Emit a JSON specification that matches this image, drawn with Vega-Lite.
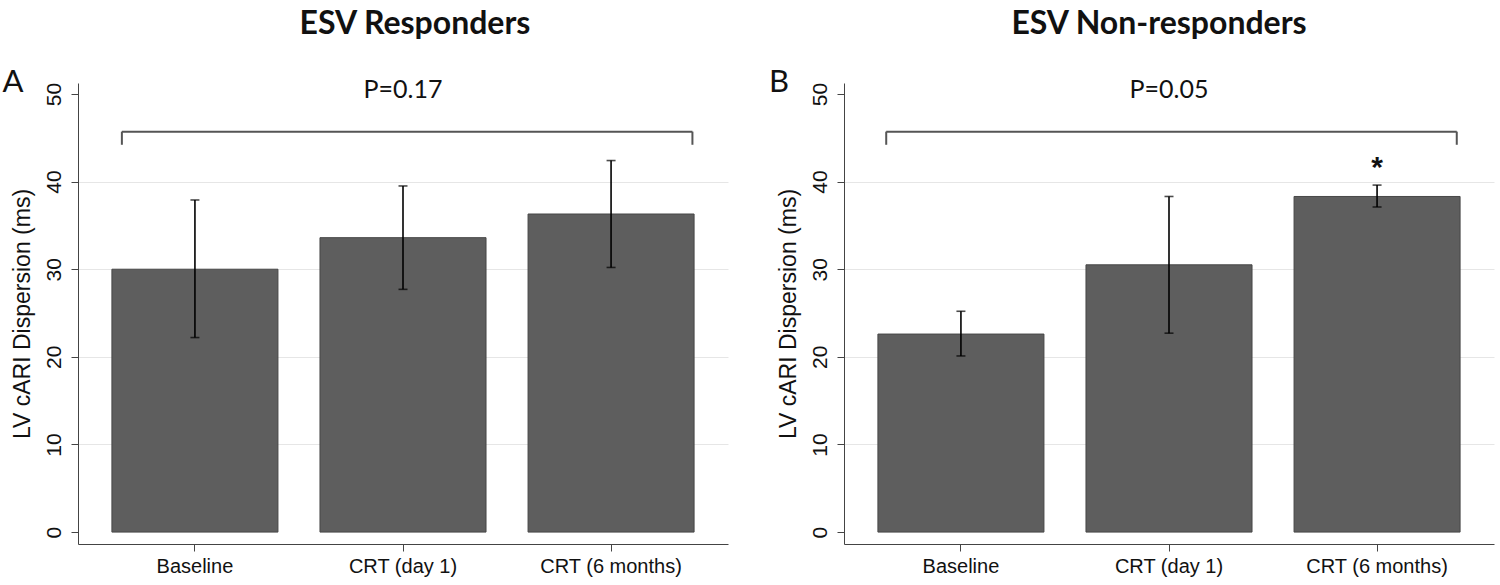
{
  "$schema": "https://vega.github.io/schema/vega-lite/v6.json",
  "background": "white",
  "padding": {"left": 2, "top": 8, "right": 5, "bottom": 2},
  "spacing": 40,
  "datasets": {
    "bars": [
      {"panel": "A", "cond": "Baseline", "mean": 30.0, "lo": 22.2, "hi": 37.9},
      {"panel": "A", "cond": "CRT (day 1)", "mean": 33.6, "lo": 27.7, "hi": 39.5},
      {"panel": "A", "cond": "CRT (6 months)", "mean": 36.3, "lo": 30.2, "hi": 42.4},
      {"panel": "B", "cond": "Baseline", "mean": 22.6, "lo": 20.1, "hi": 25.2},
      {"panel": "B", "cond": "CRT (day 1)", "mean": 30.5, "lo": 22.7, "hi": 38.3},
      {"panel": "B", "cond": "CRT (6 months)", "mean": 38.3, "lo": 37.1, "hi": 39.6}
    ],
    "notes": [
      {"panel": "A", "letter": "A", "pval": "P=0.17", "left": "Baseline", "right": "CRT (6 months)", "mid": "CRT (day 1)", "top": 45.7, "foot": 44.2, "ptext": 50.4, "letterY": 51.2},
      {"panel": "B", "letter": "B", "pval": "P=0.05", "left": "Baseline", "right": "CRT (6 months)", "mid": "CRT (day 1)", "top": 45.7, "foot": 44.2, "ptext": 50.4, "letterY": 51.2}
    ],
    "stars": [
      {"panel": "B", "cond": "CRT (6 months)", "y": 41.6, "mark": "*"}
    ]
  },
  "config": {
    "view": {"stroke": null},
    "axis": {
      "domainColor": "#444",
      "tickColor": "#444",
      "labelColor": "#111",
      "titleColor": "#111",
      "labelFont": "Liberation Sans",
      "titleFont": "Liberation Sans",
      "titleFontWeight": "normal"
    }
  },
  "hconcat": [
    {
      "width": 650,
      "height": 461,
      "title": {"text": "ESV Responders", "font": "Lato", "fontSize": 32, "fontWeight": "bold", "color": "#111", "offset": 26, "anchor": "middle", "dx": 12},
      "layer": [
        {
          "data": {"name": "bars"},
          "transform": [{"filter": "datum.panel == 'A'"}],
          "mark": {"type": "bar", "color": "#5e5e5e", "stroke": "#474747", "strokeWidth": 1},
          "encoding": {
            "x": {"field": "cond", "type": "nominal",
              "scale": {"domain": ["Baseline", "CRT (day 1)", "CRT (6 months)"], "paddingInner": 0.202, "paddingOuter": 0.163},
              "axis": {"title": null, "labelAngle": 0, "labelFontSize": 20, "tickSize": 7, "labelPadding": 5}},
            "y": {"field": "mean", "type": "quantitative",
              "scale": {"domain": [-1.36, 51.25], "nice": false, "zero": false},
              "axis": {"title": "LV cARI Dispersion (ms)", "titleFontSize": 23, "titlePadding": 9, "values": [0, 10, 20, 30, 40, 50], "labelAngle": -90, "labelFontSize": 21, "labelPadding": 7, "tickSize": 7,
                "grid": true, "gridColor": {"condition": {"test": "datum.value == 0 || datum.value == 50", "value": "transparent"}, "value": "#e6e6e6"}}}
          }
        },
        {
          "data": {"name": "bars"},
          "transform": [{"filter": "datum.panel == 'A'"}],
          "mark": {"type": "rule", "color": "#000", "strokeWidth": 1.6},
          "encoding": {
            "x": {"field": "cond", "type": "nominal"},
            "y": {"field": "lo", "type": "quantitative"},
            "y2": {"field": "hi"}
          }
        },
        {
          "data": {"name": "bars"},
          "transform": [{"filter": "datum.panel == 'A'"}, {"fold": ["lo", "hi"], "as": ["end", "val"]}],
          "mark": {"type": "tick", "color": "#000", "thickness": 1.6, "size": 9},
          "encoding": {
            "x": {"field": "cond", "type": "nominal"},
            "y": {"field": "val", "type": "quantitative"}
          }
        },
        {
          "data": {"name": "notes"},
          "transform": [{"filter": "datum.panel == 'A'"}],
          "mark": {"type": "rule", "color": "#555", "strokeWidth": 2},
          "encoding": {
            "x": {"field": "left", "type": "nominal", "bandPosition": 0.06},
            "x2": {"field": "right", "bandPosition": 0.99},
            "y": {"field": "top", "type": "quantitative"}
          }
        },
        {
          "data": {"name": "notes"},
          "transform": [{"filter": "datum.panel == 'A'"}],
          "mark": {"type": "rule", "color": "#555", "strokeWidth": 2},
          "encoding": {
            "x": {"field": "left", "type": "nominal", "bandPosition": 0.06},
            "y": {"field": "top", "type": "quantitative"},
            "y2": {"field": "foot"}
          }
        },
        {
          "data": {"name": "notes"},
          "transform": [{"filter": "datum.panel == 'A'"}],
          "mark": {"type": "rule", "color": "#555", "strokeWidth": 2},
          "encoding": {
            "x": {"field": "right", "type": "nominal", "bandPosition": 0.99},
            "y": {"field": "top", "type": "quantitative"},
            "y2": {"field": "foot"}
          }
        },
        {
          "data": {"name": "notes"},
          "transform": [{"filter": "datum.panel == 'A'"}],
          "mark": {"type": "text", "font": "Lato", "fontSize": 25, "color": "#111", "baseline": "middle"},
          "encoding": {
            "x": {"field": "mid", "type": "nominal"},
            "y": {"field": "ptext", "type": "quantitative"},
            "text": {"field": "pval"}
          }
        },
        {
          "data": {"name": "notes"},
          "transform": [{"filter": "datum.panel == 'A'"}],
          "mark": {"type": "text", "font": "Lato", "fontSize": 31, "color": "#111", "baseline": "middle", "align": "center", "dx": -182},
          "encoding": {
            "x": {"field": "left", "type": "nominal"},
            "y": {"field": "letterY", "type": "quantitative"},
            "text": {"field": "letter"}
          }
        }
      ]
    },
    {
      "width": 650,
      "height": 461,
      "title": {"text": "ESV Non-responders", "font": "Lato", "fontSize": 32, "fontWeight": "bold", "color": "#111", "offset": 26, "anchor": "middle", "dx": -10},
      "layer": [
        {
          "data": {"name": "bars"},
          "transform": [{"filter": "datum.panel == 'B'"}],
          "mark": {"type": "bar", "color": "#5e5e5e", "stroke": "#474747", "strokeWidth": 1},
          "encoding": {
            "x": {"field": "cond", "type": "nominal",
              "scale": {"domain": ["Baseline", "CRT (day 1)", "CRT (6 months)"], "paddingInner": 0.202, "paddingOuter": 0.163},
              "axis": {"title": null, "labelAngle": 0, "labelFontSize": 20, "tickSize": 7, "labelPadding": 5}},
            "y": {"field": "mean", "type": "quantitative",
              "scale": {"domain": [-1.36, 51.25], "nice": false, "zero": false},
              "axis": {"title": "LV cARI Dispersion (ms)", "titleFontSize": 23, "titlePadding": 9, "values": [0, 10, 20, 30, 40, 50], "labelAngle": -90, "labelFontSize": 21, "labelPadding": 7, "tickSize": 7,
                "grid": true, "gridColor": {"condition": {"test": "datum.value == 0 || datum.value == 50", "value": "transparent"}, "value": "#e6e6e6"}}}
          }
        },
        {
          "data": {"name": "bars"},
          "transform": [{"filter": "datum.panel == 'B'"}],
          "mark": {"type": "rule", "color": "#000", "strokeWidth": 1.6},
          "encoding": {
            "x": {"field": "cond", "type": "nominal"},
            "y": {"field": "lo", "type": "quantitative"},
            "y2": {"field": "hi"}
          }
        },
        {
          "data": {"name": "bars"},
          "transform": [{"filter": "datum.panel == 'B'"}, {"fold": ["lo", "hi"], "as": ["end", "val"]}],
          "mark": {"type": "tick", "color": "#000", "thickness": 1.6, "size": 9},
          "encoding": {
            "x": {"field": "cond", "type": "nominal"},
            "y": {"field": "val", "type": "quantitative"}
          }
        },
        {
          "data": {"name": "notes"},
          "transform": [{"filter": "datum.panel == 'B'"}],
          "mark": {"type": "rule", "color": "#555", "strokeWidth": 2},
          "encoding": {
            "x": {"field": "left", "type": "nominal", "bandPosition": 0.05},
            "x2": {"field": "right", "bandPosition": 0.98},
            "y": {"field": "top", "type": "quantitative"}
          }
        },
        {
          "data": {"name": "notes"},
          "transform": [{"filter": "datum.panel == 'B'"}],
          "mark": {"type": "rule", "color": "#555", "strokeWidth": 2},
          "encoding": {
            "x": {"field": "left", "type": "nominal", "bandPosition": 0.05},
            "y": {"field": "top", "type": "quantitative"},
            "y2": {"field": "foot"}
          }
        },
        {
          "data": {"name": "notes"},
          "transform": [{"filter": "datum.panel == 'B'"}],
          "mark": {"type": "rule", "color": "#555", "strokeWidth": 2},
          "encoding": {
            "x": {"field": "right", "type": "nominal", "bandPosition": 0.98},
            "y": {"field": "top", "type": "quantitative"},
            "y2": {"field": "foot"}
          }
        },
        {
          "data": {"name": "notes"},
          "transform": [{"filter": "datum.panel == 'B'"}],
          "mark": {"type": "text", "font": "Lato", "fontSize": 25, "color": "#111", "baseline": "middle"},
          "encoding": {
            "x": {"field": "mid", "type": "nominal"},
            "y": {"field": "ptext", "type": "quantitative"},
            "text": {"field": "pval"}
          }
        },
        {
          "data": {"name": "notes"},
          "transform": [{"filter": "datum.panel == 'B'"}],
          "mark": {"type": "text", "font": "Lato", "fontSize": 31, "color": "#111", "baseline": "middle", "align": "center", "dx": -182},
          "encoding": {
            "x": {"field": "left", "type": "nominal"},
            "y": {"field": "letterY", "type": "quantitative"},
            "text": {"field": "letter"}
          }
        },
        {
          "data": {"name": "stars"},
          "mark": {"type": "text", "font": "Liberation Sans", "fontSize": 30, "fontWeight": "bold", "color": "#111", "baseline": "middle"},
          "encoding": {
            "x": {"field": "cond", "type": "nominal"},
            "y": {"field": "y", "type": "quantitative"},
            "text": {"field": "mark"}
          }
        }
      ]
    }
  ]
}
